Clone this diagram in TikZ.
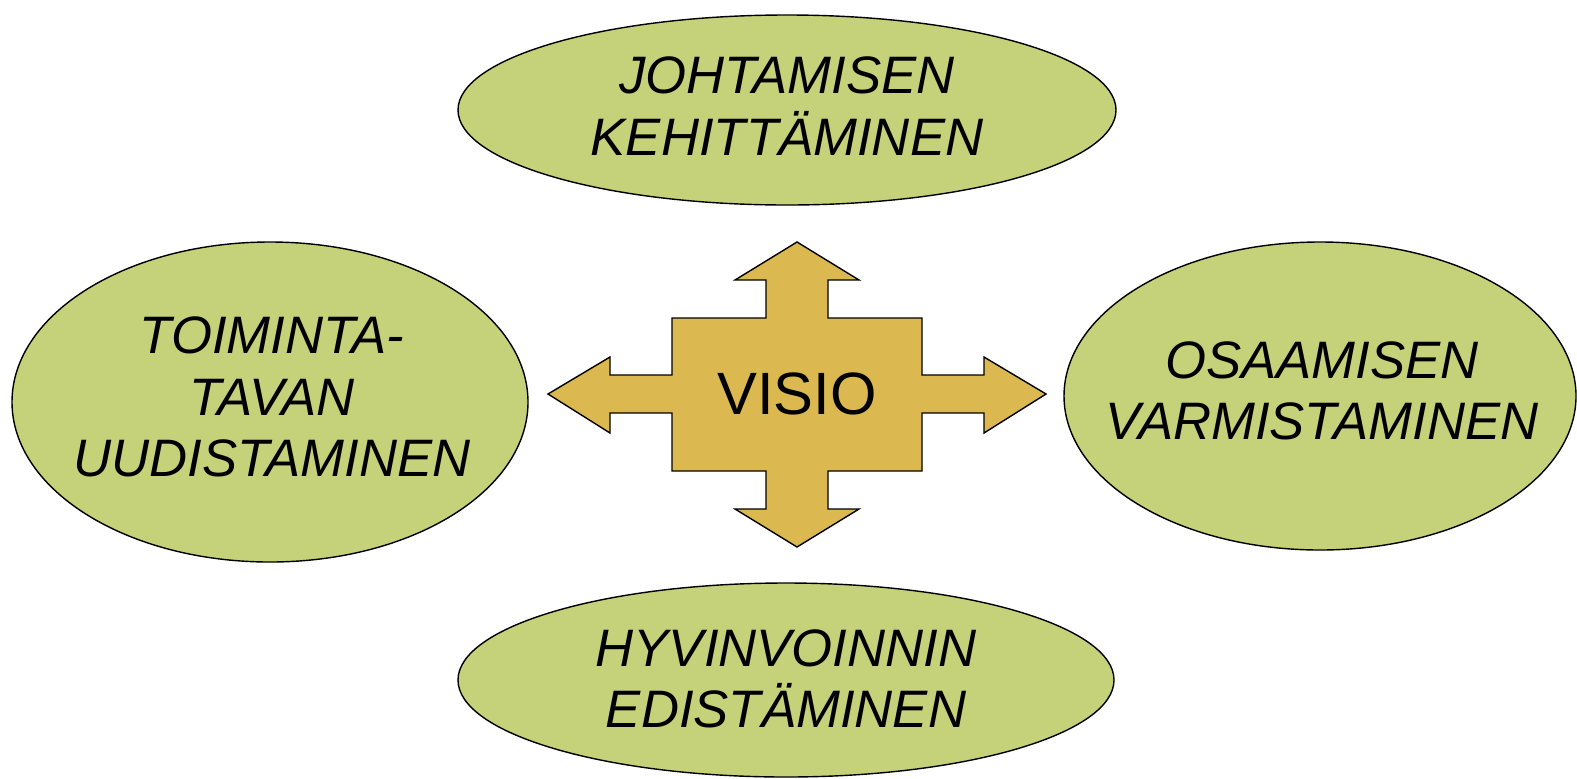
\documentclass[tikz,border=0pt]{standalone}
\usepackage{fontspec}
\setmainfont{Liberation Sans}
\usetikzlibrary{shapes.geometric}
\definecolor{leafgreen}{RGB}{198,210,122}
\definecolor{visiogold}{RGB}{219,184,80}

\begin{document}
\begin{tikzpicture}[x=0.02cm, y=-0.02cm,
    bubble/.style={fill=leafgreen, draw=black, line width=0.8pt},
    goaltext/.style={font=\fontsize{30}{35}\selectfont\itshape, align=center, inner sep=0pt}]
    \useasboundingbox (0,0) rectangle (1577,778);

    % Goal ellipses
    \filldraw[bubble] (787,110) ellipse [x radius=329, y radius=95];
    \filldraw[bubble] (270,402) ellipse [x radius=258, y radius=160];
    \filldraw[bubble] (1320,396) ellipse [x radius=256, y radius=154];
    \filldraw[bubble] (786,680) ellipse [x radius=328, y radius=97];

    % Four-way arrow
    \filldraw[fill=visiogold, draw=black, line width=0.8pt, line join=miter]
        (797,242) -- (859,280) -- (828,280) -- (828,318) -- (922,318) -- (922,375)
        -- (984,375) -- (984,357) -- (1046,394) -- (984,433) -- (984,413) -- (922,413)
        -- (922,471) -- (828,471) -- (828,509) -- (859,509) -- (797,547) -- (735,509)
        -- (766,509) -- (766,471) -- (672,471) -- (672,413) -- (610,413) -- (610,433)
        -- (548,394) -- (610,357) -- (610,375) -- (672,375) -- (672,318) -- (766,318)
        -- (766,280) -- (735,280) -- cycle;

    % Labels
    \node[inner sep=0pt, font=\fontsize{34}{38}\selectfont] (visio) at (797,394) {VISIO};
    \node[goaltext] (johto) at (787,106) {JOHTAMISEN\\KEHITTÄMINEN};
    \node[goaltext] (toiminta) at (272,397) {TOIMINTA-\\TAVAN\\UUDISTAMINEN};
    \node[goaltext] (osaaminen) at (1322,391) {OSAAMISEN\\VARMISTAMINEN};
    \node[goaltext] (hyvinvointi) at (786,679) {HYVINVOINNIN\\EDISTÄMINEN};
\end{tikzpicture}
\end{document}
